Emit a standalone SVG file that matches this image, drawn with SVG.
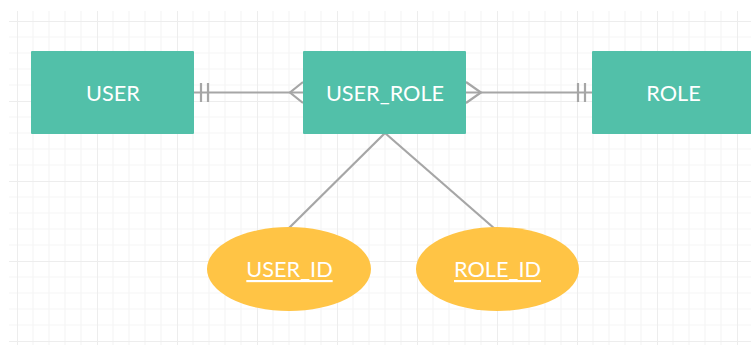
<svg xmlns="http://www.w3.org/2000/svg" width="751" height="345" viewBox="0 0 751 345">
  <style>
    .entity { fill: #52c0a9; }
    .attr { fill: #ffc445; }
    .label { font-family: Lato, "Open Sans", sans-serif; font-size: 21.7px; fill: #ffffff; text-anchor: middle; dominant-baseline: central; }
    .key { text-decoration: underline; }
    .link { stroke: #a6a6a6; stroke-width: 2.2; fill: none; }
  </style>
  <defs>
    <pattern id="grid" patternUnits="userSpaceOnUse" x="17" y="21" width="80" height="80">
      <path d="M16 0V80M32 0V80M48 0V80M64 0V80M0 16H80M0 32H80M0 48H80M0 64H80" stroke="#f5f5f5" stroke-width="1.2" fill="none"/>
      <path d="M0 0V80M0 0H80" stroke="#ededed" stroke-width="2" fill="none"/>
    </pattern>
  </defs>
  <rect width="751" height="345" fill="#ffffff"/>
  <rect x="9" y="11" width="742" height="334" fill="url(#grid)"/>

  <g id="connectors">
    <!-- USER ||——< USER_ROLE -->
    <path class="link" d="M194 92.5H303"/>
    <path class="link" d="M201 83V102M208 83V102"/>
    <path class="link" d="M303 82L290 92.5L303 103"/>
    <!-- USER_ROLE >——|| ROLE -->
    <path class="link" d="M466 92.5H592"/>
    <path class="link" d="M466 82L481 92.5L466 103"/>
    <path class="link" d="M578 83V102M585 83V102"/>
    <!-- USER_ROLE to its key attributes -->
    <path class="link" d="M385 133L288 229"/>
    <path class="link" d="M385 133L495 229"/>
  </g>

  <g id="user">
    <rect class="entity" x="31" y="51" width="163" height="83" rx="1"/>
    <text class="label" x="113" y="92.5">USER</text>
  </g>
  <g id="user_role">
    <rect class="entity" x="303" y="51" width="163" height="83" rx="1"/>
    <text class="label" x="385" y="92.5">USER_ROLE</text>
  </g>
  <g id="role">
    <rect class="entity" x="592" y="51" width="163" height="83" rx="1"/>
    <text class="label" x="673.5" y="92.5">ROLE</text>
  </g>
  <g id="user_id">
    <ellipse class="attr" cx="289" cy="269" rx="82" ry="42"/>
    <text class="label key" x="289.5" y="269">USER_ID</text>
  </g>
  <g id="role_id">
    <ellipse class="attr" cx="497.5" cy="269" rx="81.5" ry="42"/>
    <text class="label key" x="497.5" y="269">ROLE_ID</text>
  </g>
</svg>
